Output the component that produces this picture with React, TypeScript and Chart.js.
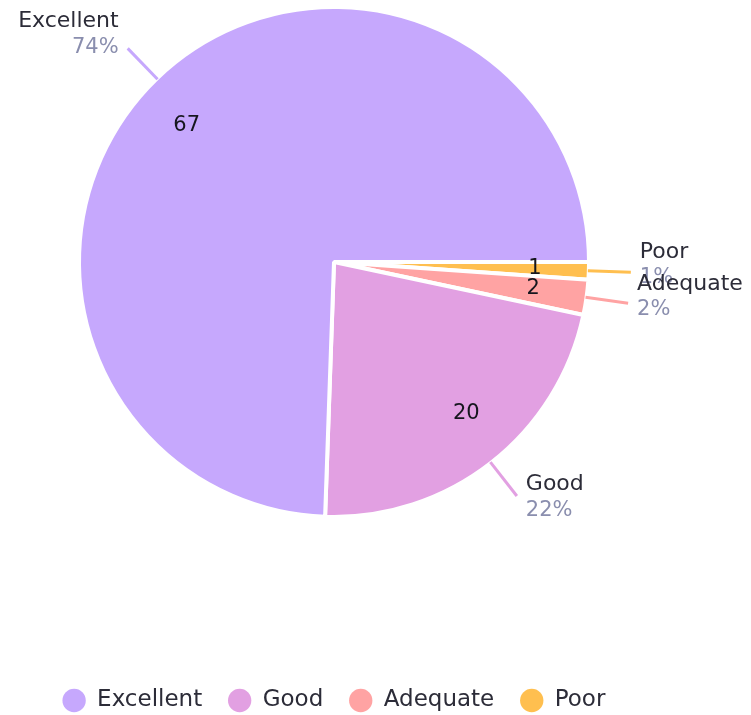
import React, { useEffect, useRef } from "react";
import { Chart, registerables } from "chart.js";

Chart.register(...registerables);

const categories = ["Excellent", "Good", "Adequate", "Poor"];
const values = [67, 20, 2, 1];
const sliceColors = ["#c6a8fd", "#e2a0e2", "#ffa3a3", "#ffbf4f"];

const FONT = "'DejaVu Sans', sans-serif";

const labelPlugin = {
  id: "pieLabels",
  afterDatasetsDraw(chart: any) {
    const ctx = chart.ctx;
    const meta = chart.getDatasetMeta(0);
    const ds = chart.data.datasets[0];
    const data: number[] = ds.data as number[];
    const total = data.reduce((a, b) => a + b, 0);
    ctx.save();
    meta.data.forEach((arc: any, i: number) => {
      const p = arc.getProps(["x", "y", "startAngle", "endAngle", "outerRadius"], true);
      const span = p.endAngle - p.startAngle;
      const mid = (p.startAngle + p.endAngle) / 2;
      const c = Math.cos(mid);
      const s = Math.sin(mid);
      const r = p.outerRadius - 2;
      const color = (ds.backgroundColor as string[])[i];
      // leader line
      const sx = p.x + (r + 1) * c;
      const sy = p.y + (r + 1) * s;
      const ex = p.x + (r + 44) * c;
      const ey = p.y + (r + 44) * s;
      ctx.strokeStyle = color;
      ctx.lineWidth = 3;
      ctx.beginPath();
      ctx.moveTo(sx, sy);
      ctx.lineTo(ex, ey);
      ctx.stroke();
      // outside label
      const right = c >= 0;
      const tx = right ? ex + 9 : ex - 9;
      const pctY = ey + (s > 0 ? 5 + 12 * s : -1);
      const nameY = pctY - 26;
      ctx.textAlign = right ? "left" : "right";
      ctx.textBaseline = "middle";
      ctx.font = `22px ${FONT}`;
      ctx.fillStyle = "#2c2c38";
      ctx.fillText(chart.data.labels[i], tx, nameY);
      ctx.font = `21px ${FONT}`;
      ctx.fillStyle = "#8a8eae";
      ctx.fillText(Math.round((data[i] / total) * 100) + "%", tx, pctY);
      // inside value
      const ir = 201;
      const a = mid - Math.min(0.055, span * 0.06);
      ctx.textAlign = "center";
      ctx.font = `21px ${FONT}`;
      ctx.fillStyle = "#16161e";
      ctx.fillText(String(data[i]), p.x + ir * Math.cos(a), p.y + ir * Math.sin(a));
    });
    ctx.restore();
  },
};

export default function App() {
  const ref = useRef<HTMLCanvasElement | null>(null);
  useEffect(() => {
    if (!ref.current) return;
    const order = categories.map((_, i) => i).reverse();
    const chart = new Chart(ref.current, {
      type: "pie",
      data: {
        labels: order.map((i) => categories[i]),
        datasets: [
          {
            data: order.map((i) => values[i]),
            backgroundColor: order.map((i) => sliceColors[i]),
            borderColor: "#ffffff",
            borderWidth: 4,
          },
        ],
      },
      options: {
        animation: false,
        responsive: true,
        maintainAspectRatio: false,
        rotation: 90,
        radius: 255,
        layout: { padding: { left: 0, right: 83, top: 0, bottom: -7 } },
        plugins: {
          tooltip: { enabled: false },
          legend: {
            position: "bottom",
            reverse: true,
            title: {
              display: true,
              text: " ",
              font: { size: 10 },
              padding: { top: 0, bottom: 127 },
            },
            labels: {
              usePointStyle: true,
              pointStyle: "circle",
              boxWidth: 23,
              boxHeight: 16.5,
              padding: 26,
              color: "#2c2c38",
              font: { family: FONT, size: 23 },
              generateLabels: (c: any) =>
                (Chart as any).overrides.pie.plugins.legend.labels
                  .generateLabels(c)
                  .map((l: any) => ({ ...l, lineWidth: 0, strokeStyle: "rgba(0,0,0,0)" })),
            },
          },
        },
      },
      plugins: [labelPlugin],
    });
    return () => chart.destroy();
  }, []);
  return (
    <div style={{ position: "fixed", left: 0, top: 0, width: 751, height: 715, background: "#fff" }}>
      <canvas ref={ref} />
    </div>
  );
}
